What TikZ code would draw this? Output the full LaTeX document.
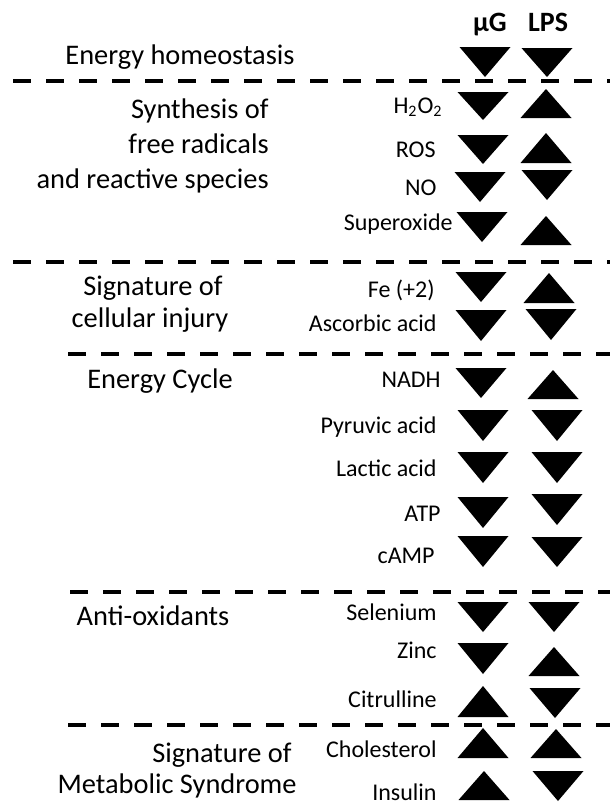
\documentclass[tikz,border=0pt]{standalone}
\usepackage{fontspec}
\setmainfont{Carlito}
\begin{document}
\begin{tikzpicture}[x=0.5pt,y=-0.5pt,
  grouplbl/.style={inner sep=0pt,font=\fontsize{14.2}{17}\selectfont},
  itemlbl/.style={inner sep=0pt,anchor=base east,font=\fontsize{12}{14}\selectfont},
  headlbl/.style={inner sep=0pt,anchor=base,font=\fontsize{14}{17}\selectfont\bfseries},
  sepline/.style={line width=2.2pt,dash pattern=on 9pt off 7.5pt}]
\useasboundingbox (0,0) rectangle (610,803);
\newcommand\tdn[3]{\fill (#1-25.5,#2) -- (#1+25.5,#2) -- (#1,#3) -- cycle;}
\newcommand\tup[3]{\fill (#1-25.5,#3) -- (#1+25.5,#3) -- (#1,#2) -- cycle;}
% headers
\node[headlbl] (hmg) at (490,32) {µG};
\node[headlbl] (hlps) at (548,32) {LPS};
% separators
\coordinate (s1a) at (13,81);  \coordinate (s1b) at (610,81);
\coordinate (s2a) at (13,262); \coordinate (s2b) at (610,262);
\coordinate (s3a) at (68,354); \coordinate (s3b) at (610,354);
\coordinate (s4a) at (70,592); \coordinate (s4b) at (610,592);
\coordinate (s5a) at (68,725); \coordinate (s5b) at (610,725);
\draw[sepline] (s1a) -- (s1b);
\draw[sepline] (s2a) -- (s2b);
\draw[sepline] (s3a) -- (s3b);
\draw[sepline] (s4a) -- (s4b);
\draw[sepline] (s5a) -- (s5b);
% group labels
\node[grouplbl,anchor=base] (g1) at (180,64) {Energy homeostasis};
\node[grouplbl,anchor=base east] (g2a) at (269,118) {Synthesis of};
\node[grouplbl,anchor=base east] (g2b) at (269,153) {free radicals};
\node[grouplbl,anchor=base east] (g2c) at (269,188) {and reactive species};
\node[grouplbl,anchor=base] (g3a) at (153,295) {Signature of};
\node[grouplbl,anchor=base] (g3b) at (150,327) {cellular injury};
\node[grouplbl,anchor=base] (g4) at (160,388) {Energy Cycle};
\node[grouplbl,anchor=base] (g5) at (153,625) {Anti-oxidants};
\node[grouplbl,anchor=base east] (g6a) at (292,762) {Signature of};
\node[grouplbl,anchor=base east] (g6b) at (297,793) {Metabolic Syndrome};
% item labels
\node[itemlbl] (i1) at (443,113) {H\textsubscript{2}O\textsubscript{2}};
\node[itemlbl] (i2) at (436,157) {ROS};
\node[itemlbl] (i3) at (437,195) {NO};
\node[itemlbl] (i4) at (453,230) {Superoxide};
\node[itemlbl] (i5) at (435,297) {Fe (+2)};
\node[itemlbl] (i6) at (437,331) {Ascorbic acid};
\node[itemlbl] (i7) at (441,387) {NADH};
\node[itemlbl] (i8) at (437,433) {Pyruvic acid};
\node[itemlbl] (i9) at (437,476) {Lactic acid};
\node[itemlbl] (i10) at (441,521) {ATP};
\node[itemlbl] (i11) at (435,563) {cAMP};
\node[itemlbl] (i12) at (437,620) {Selenium};
\node[itemlbl] (i13) at (437,658) {Zinc};
\node[itemlbl] (i14) at (437,707) {Citrulline};
\node[itemlbl] (i15) at (437,757) {Cholesterol};
\node[itemlbl] (i16) at (437,800) {Insulin};
% triangles: mu-G column
\tdn{485}{47}{77}
\tdn{483}{92}{120}
\tdn{483}{135}{164}
\tdn{480}{172}{202}
\tdn{482}{212}{242}
\tdn{481}{272}{302}
\tdn{481}{310}{341}
\tdn{481}{368}{398}
\tdn{483}{410}{441}
\tdn{483}{452}{483}
\tdn{483}{497}{528}
\tdn{483}{536}{567}
\tdn{483}{602}{632}
\tdn{483}{643}{674}
\tup{483}{686}{717}
\tup{483}{728}{758}
\tup{484}{771}{800}
% triangles: LPS column
\tdn{547}{48}{77}
\tup{546}{89}{118}
\tup{546}{133}{163}
\tdn{547}{170}{200}
\tup{546}{216}{245}
\tup{549}{273}{303}
\tdn{551}{309}{340}
\tup{553}{370}{399}
\tdn{557}{410}{441}
\tdn{557}{452}{483}
\tdn{557}{494}{525}
\tdn{557}{537}{567}
\tdn{554}{602}{632}
\tup{554}{647}{676}
\tdn{555}{688}{718}
\tup{556}{729}{758}
\tdn{558}{771}{801}
\end{tikzpicture}
\end{document}
